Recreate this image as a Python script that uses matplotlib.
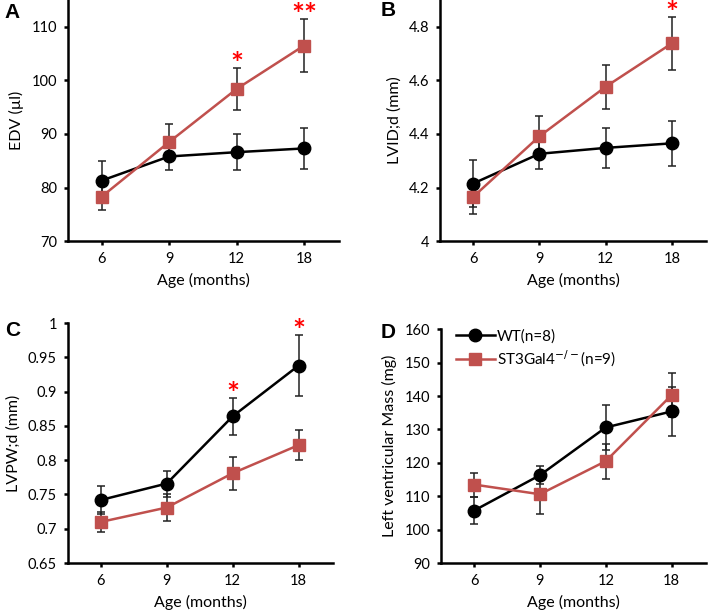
import matplotlib
matplotlib.use("Agg")
import matplotlib.pyplot as plt

plt.rcParams['font.family'] = ['Lato', 'DejaVu Sans']

# data
ages = ["6", "9", "12", "18"]

edv_wt = [81.3, 85.8, 86.6, 87.3]
edv_wt_err = [3.7, 2.5, 3.3, 3.8]
edv_ko = [78.3, 88.5, 98.4, 106.5]
edv_ko_err = [2.5, 3.4, 4.0, 5.0]
edv_sig = ["", "", "*", "**"]

lvid_wt = [4.215, 4.326, 4.348, 4.365]
lvid_wt_err = [0.086, 0.055, 0.076, 0.085]
lvid_ko = [4.165, 4.391, 4.576, 4.738]
lvid_ko_err = [0.064, 0.075, 0.083, 0.10]
lvid_sig = ["", "", "", "*"]

lvpw_wt = [0.742, 0.766, 0.864, 0.938]
lvpw_wt_err = [0.020, 0.019, 0.0275, 0.045]
lvpw_ko = [0.710, 0.731, 0.781, 0.822]
lvpw_ko_err = [0.015, 0.020, 0.024, 0.022]
lvpw_sig = ["", "", "*", "*"]

lvm_wt = [105.7, 116.3, 130.6, 135.4]
lvm_wt_err = [4.1, 2.7, 6.8, 7.3]
lvm_ko = [113.5, 110.6, 120.5, 140.3]
lvm_ko_err = [3.6, 5.8, 5.2, 6.6]
lvm_sig = ["", "", "", ""]

red = "#C0504D"

fig = plt.figure(figsize=(7.08, 6.12), dpi=100)

panels = [
    # rect, letter, letter pos (fig px), ylabel, ylim, yticks, labels, data
    ([0.096, 0.606, 0.383, 0.394], "A", (4, 13), "EDV (\u00b5l)", (70, 115),
     [70, 80, 90, 100, 110], ["70", "80", "90", "100", "110"],
     edv_wt, edv_wt_err, edv_ko, edv_ko_err, edv_sig),
    ([0.6215, 0.606, 0.376, 0.394], "B", (381, 10), "LVID;d (mm)", (4.0, 4.9),
     [4.0, 4.2, 4.4, 4.6, 4.8], ["4", "4.2", "4.4", "4.6", "4.8"],
     lvid_wt, lvid_wt_err, lvid_ko, lvid_ko_err, lvid_sig),
    ([0.096, 0.080, 0.374, 0.392], "C", (5, 331), "LVPW;d (mm)", (0.65, 1.0),
     [0.65, 0.7, 0.75, 0.8, 0.85, 0.9, 0.95, 1.0],
     ["0.65", "0.7", "0.75", "0.8", "0.85", "0.9", "0.95", "1"],
     lvpw_wt, lvpw_wt_err, lvpw_ko, lvpw_ko_err, lvpw_sig),
    ([0.623, 0.080, 0.374, 0.382], "D", (381, 333), "Left ventricular Mass (mg)", (90, 160),
     [90, 100, 110, 120, 130, 140, 150, 160],
     ["90", "100", "110", "120", "130", "140", "150", "160"],
     lvm_wt, lvm_wt_err, lvm_ko, lvm_ko_err, lvm_sig),
]

x = list(range(len(ages)))

for (rect, letter, lpos, ylabel, ylim, yt, ytl, wt, wterr, ko, koerr, sig) in panels:
    ax = fig.add_axes(rect)
    ax.errorbar(x, wt, yerr=wterr, fmt='none', ecolor='#222222', elinewidth=1.1,
                capsize=3, capthick=1.1, zorder=2)
    ax.errorbar(x, ko, yerr=koerr, fmt='none', ecolor='#222222', elinewidth=1.1,
                capsize=3, capthick=1.1, zorder=2)
    ax.plot(x, wt, color='black', lw=1.8, marker='o', ms=9, zorder=3,
            label="WT(n=8)")
    ax.plot(x, ko, color=red, lw=1.8, marker='s', ms=8.5, zorder=3,
            label="ST3Gal4$^{-/-}$(n=9)")

    # significance stars above the highest error bar
    for i, s in enumerate(sig):
        if s:
            top = max(wt[i] + wterr[i], ko[i] + koerr[i])
            ax.annotate(s, (x[i], top), xytext=(0, 2), textcoords='offset points',
                        ha='center', va='center', color='red', fontsize=22,
                        fontweight='bold', annotation_clip=False)

    ax.set_xlim(-0.5, 3.52)
    ax.set_ylim(*ylim)
    ax.set_xticks(x)
    ax.set_xticklabels(ages)
    ax.set_yticks(yt)
    ax.set_yticklabels(ytl)
    ax.tick_params(axis='both', direction='out', length=3, width=1.8,
                   labelsize=10.5, pad=5)
    for side in ['top', 'right']:
        ax.spines[side].set_visible(False)
    for side in ['left', 'bottom']:
        ax.spines[side].set_linewidth(1.8)
    ax.set_xlabel("Age (months)", fontsize=11.5, labelpad=5)
    ax.set_ylabel(ylabel, fontsize=11.5, labelpad=5)
    fig.text(lpos[0] / 708, 1 - lpos[1] / 612, letter, fontsize=15,
             fontweight='bold', family='Liberation Sans', ha='left', va='center')

    if letter == "D":
        ax.legend(loc='upper left', bbox_to_anchor=(0.02, 1.04), frameon=False,
                  fontsize=11, handlelength=2.6, handletextpad=0.1,
                  labelspacing=0.35, borderaxespad=0.2)

fig.savefig("out.png", dpi=100)
